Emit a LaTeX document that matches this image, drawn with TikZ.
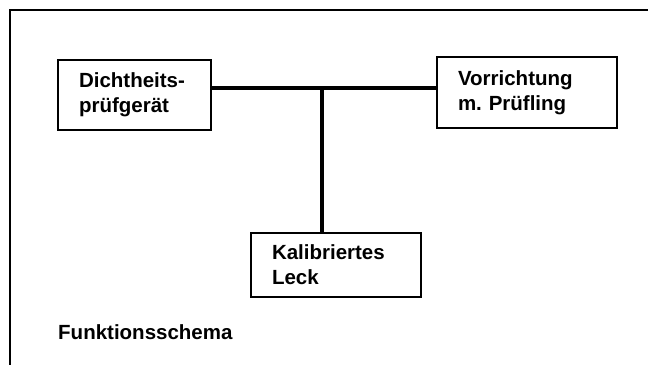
\documentclass[tikz,border=0pt]{standalone}
\usepackage{fontspec}
\setmainfont{Liberation Sans}
\frenchspacing
\begin{document}
\begin{tikzpicture}[x=1pt,y=-1pt,
	box/.style={draw,line width=1.6pt,align=left,inner xsep=21pt,inner ysep=0pt,
		font=\fontsize{20.5}{25}\selectfont\bfseries},
	pipe/.style={line width=4pt}]
	\useasboundingbox (0,0) rectangle (648,365);
	\draw[line width=2pt] (648,10) -- (10,10) -- (10,365);
	\node[box,text width=111pt,minimum height=70pt] (d) at (134.5,95) {Dichtheits-\\prüfgerät};
	\node[box,text width=138pt,minimum height=71pt] (v) at (527,92.5) {Vorrichtung\\m. Prüfling};
	\node[box,text width=128pt,minimum height=64pt] (k) at (336,265) {Kalibriertes\\Leck};
	\coordinate (t) at (322,88);
	\draw[pipe] (d.east |- t) -- (v.west |- t);
	\draw[pipe] (t) -- (t |- k.north);
	\node[anchor=base west,inner sep=0pt,font=\fontsize{20.5}{25}\selectfont\bfseries] (f) at (58,339) {Funktionsschema};
\end{tikzpicture}
\end{document}
